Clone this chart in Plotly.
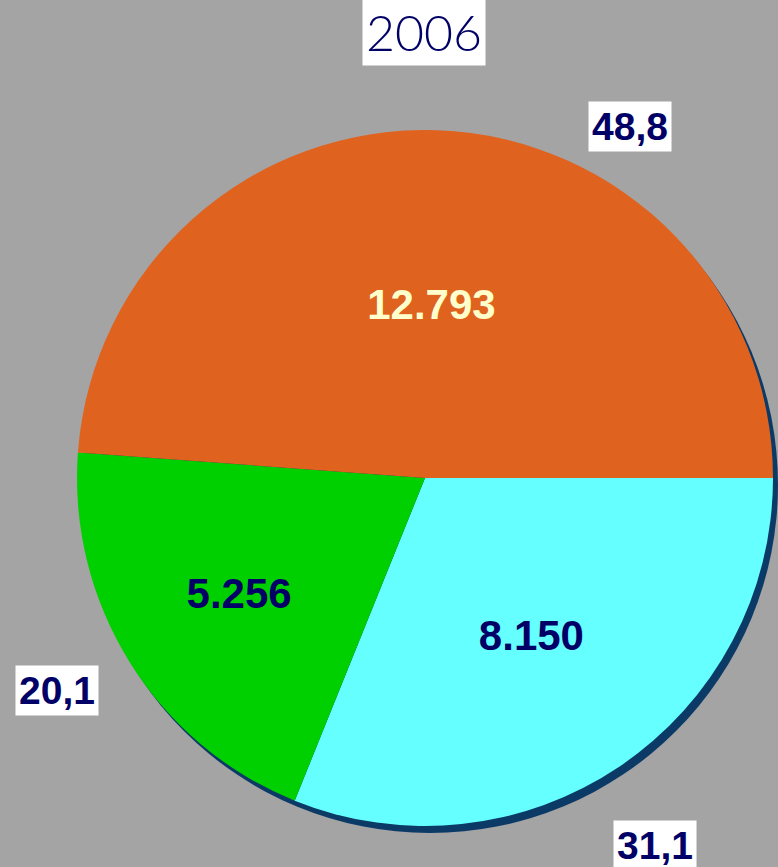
import plotly.graph_objects as go

# slices listed clockwise starting at 3 o'clock
categories = ["C", "B", "A"]
values = [8150, 5256, 12793]
value_labels = ["8.150", "5.256", "12.793"]
percent_labels = ["31,1", "20,1", "48,8"]
colors = ["#66FFFF", "#00D000", "#E0621F"]
text_colors = ["#000066", "#000066", "#FFFFCC"]
title_text = "2006"

W, H = 778, 867
cx, cy, r = 425, 478, 348
BG = "#A4A4A4"

def dom(cx, cy, r):
    return dict(x=[max(0, (cx - r) / W), min(1, (cx + r) / W)],
                y=[max(0, 1 - (cy + r) / H), min(1, 1 - (cy - r) / H)])

fig = go.Figure()
# shadow
fig.add_trace(go.Pie(values=[1], labels=["s"], marker=dict(colors=["#0B3A66"], line=dict(width=0)),
                     textinfo="none", hoverinfo="skip", sort=False, domain=dom(cx + 5, cy + 7, r),
                     showlegend=False))
fig.add_trace(go.Pie(
    labels=categories, values=values, sort=False, direction="clockwise", rotation=90,
    marker=dict(colors=colors, line=dict(width=0)),
    text=["<b>" + t + "</b>" for t in value_labels], textinfo="text", textposition="inside",
    insidetextorientation="horizontal",
    insidetextfont=dict(family="Liberation Sans, Arial", size=42, color=text_colors),
    domain=dom(cx, cy, r), showlegend=False,
))

fig.add_annotation(text=title_text, x=424 / W, y=1 - 32 / H, xref="paper", yref="paper",
                   xanchor="center", yanchor="middle",
                   showarrow=False, bgcolor="white", borderpad=3,
                   font=dict(family="Lato, DejaVu Sans", size=50, color="#000066", weight=300))
pos = [(655, 845), (57, 690), (630, 127)]
for t, (px, py) in zip(percent_labels, pos):
    fig.add_annotation(text="<b>" + t + "</b>", x=px / W, y=1 - py / H, xref="paper", yref="paper",
                       xanchor="center", yanchor="middle",
                       showarrow=False, bgcolor="white", borderpad=3,
                       font=dict(family="Liberation Sans, Arial", size=39, color="#000066"))

fig.update_layout(width=W, height=H, margin=dict(l=0, r=0, t=0, b=0),
                  paper_bgcolor=BG, plot_bgcolor=BG)
fig.write_html("out.html", config={"displayModeBar": False},
               post_script="document.body.style.margin='0';document.body.style.background='" + BG + "';")
